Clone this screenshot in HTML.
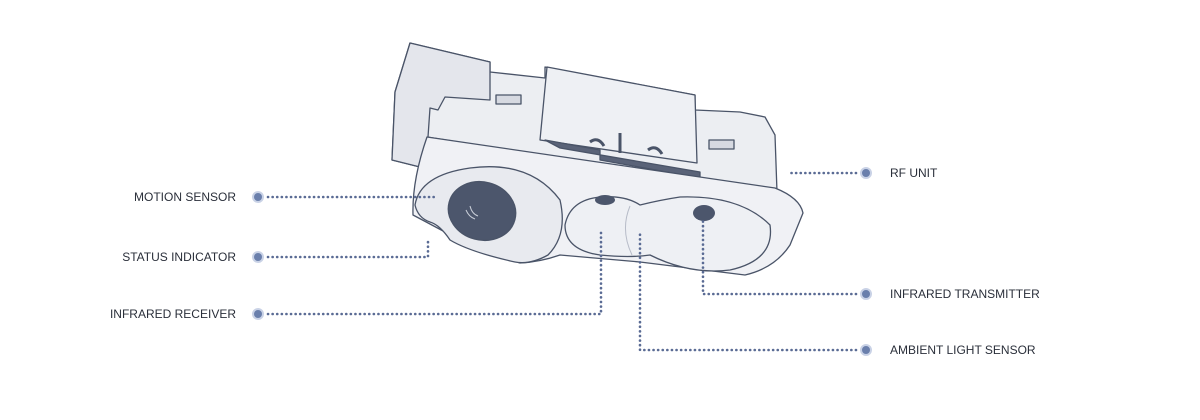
<!DOCTYPE html>
<html><head><meta charset="utf-8"><style>
html,body{margin:0;padding:0;background:#fff;}
svg{display:block;}
text{font-family:"Liberation Sans",sans-serif;font-size:12px;fill:#2a2f3a;}
</style></head><body>
<svg width="1200" height="420" viewBox="0 0 1200 420" xmlns="http://www.w3.org/2000/svg">
<g stroke="#4a5468" stroke-width="1.3" stroke-linejoin="round">
  <polygon points="410,43 490,62 490,72 545,78 545,67 695,95 695,110 740,112 765,117 775,135 777,192 427,137 420,167 392,160 395,92" fill="#eceef2"/>
  <polygon points="410,43 490,62 490,100 445,97 438,110 430,108 428,137 420,167 392,160 395,92" fill="#e4e6ec"/>
  <polygon points="547,67 695,95 697,163 540,140" fill="#eef0f4"/>
  <rect x="496" y="95" width="25" height="9" fill="#d6d9e1"/>
  <rect x="709" y="140" width="25" height="9" fill="#d6d9e1"/>
  <path d="M545,140 L600,150 L600,160 L700,178 L700,172 L560,148 Z" fill="#5a6378"/>
  <path d="M590,142 q8,-6 14,4 M620,133 v20 M648,150 q8,-6 14,4" fill="none" stroke-width="3"/>
  <path d="M427,137 L775,188 Q800,198 803,213 L790,245 Q775,268 745,275 L640,262 L560,255 Q540,262 520,263 Q480,250 445,232 L413,215 Q412,180 427,137 Z" fill="#f0f1f5"/>
  <path d="M415,205 Q420,175 470,168 Q530,160 560,200 Q568,235 548,255 Q530,265 515,262 Q470,252 450,240 Q440,225 430,222 Q418,218 415,205 Z" fill="#e8eaef"/>
  <ellipse cx="482" cy="211" rx="34" ry="29" transform="rotate(15 482 211)" fill="#4c566c"/>
  <path d="M470,206 q2,8 8,10 M466,210 q3,7 9,9" stroke="#c9ced8" fill="none" stroke-width="1"/>
  <path d="M565,225 Q570,200 600,197 Q625,195 640,205 Q660,200 680,197 Q740,195 770,225 Q775,260 730,270 Q690,275 650,255 Q630,258 600,255 Q565,250 565,225 Z" fill="#eef0f4"/>
  <path d="M630,206 Q620,230 632,255" fill="none" stroke="#b7bcc8" stroke-width="1"/>
  <ellipse cx="605" cy="200" rx="10" ry="5" fill="#4c566c" stroke="none"/>
  <ellipse cx="704" cy="213" rx="11" ry="8" fill="#4c566c" stroke="none"/>
</g>
<g stroke="#5a6b94" stroke-width="2.6" stroke-dasharray="0.1 4.5" stroke-linecap="round" fill="none">
  <path d="M268,197 H437"/>
  <path d="M268,257 H428 V238"/>
  <path d="M268,314 H601 V232"/>
  <path d="M856,350 H640 V232"/>
  <path d="M856,294 H703 V220"/>
  <path d="M856,173 H788"/>
</g>
<g fill="#6a7fac" stroke="#c9d2e6" stroke-width="2">
  <circle cx="258" cy="197" r="5"/><circle cx="258" cy="257" r="5"/><circle cx="258" cy="314" r="5"/>
  <circle cx="866" cy="173" r="5"/><circle cx="866" cy="294" r="5"/><circle cx="866" cy="350" r="5"/>
</g>
<g text-anchor="end">
  <text x="236" y="201">MOTION SENSOR</text>
  <text x="236" y="261">STATUS INDICATOR</text>
  <text x="236" y="318">INFRARED RECEIVER</text>
</g>
<text x="890" y="177">RF UNIT</text>
<text x="890" y="298">INFRARED TRANSMITTER</text>
<text x="890" y="354">AMBIENT LIGHT SENSOR</text>
</svg>
</body></html>
